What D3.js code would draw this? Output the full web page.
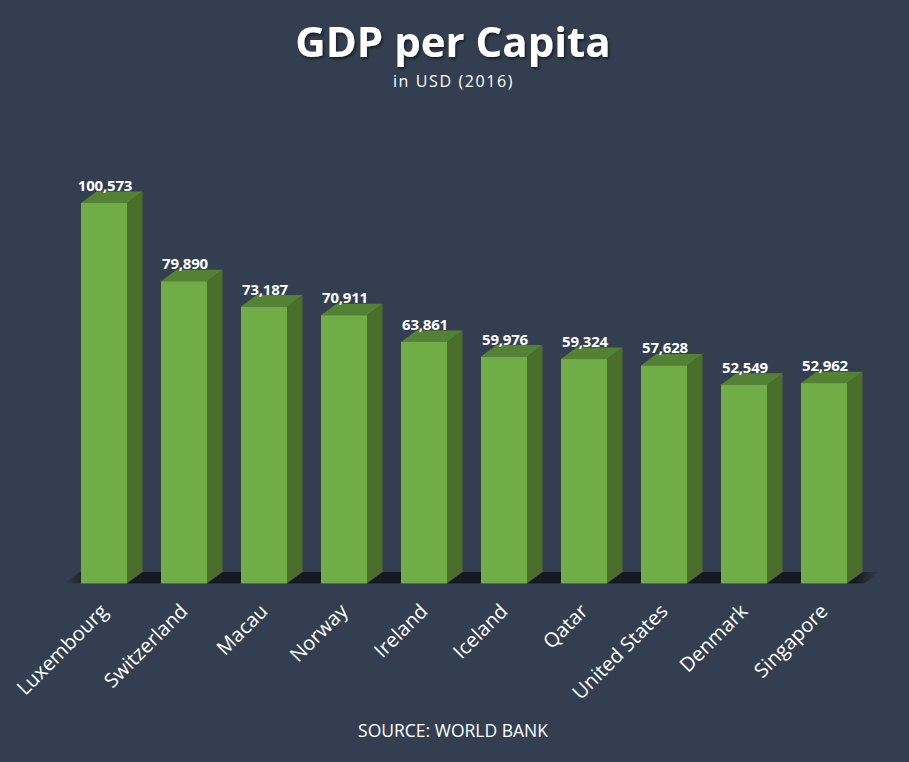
<!DOCTYPE html>
<html>
<head>
<meta charset="utf-8">
<script src="https://cdn.jsdelivr.net/npm/d3@7"></script>
<style>
  html, body { margin: 0; padding: 0; background: #333f50; }
  svg { display: block; }
  text { font-family: "Open Sans", sans-serif; fill: #fff; }
</style>
</head>
<body>
<div class="viz"></div>
<script>
const countries = ['Luxembourg', 'Switzerland', 'Macau', 'Norway', 'Ireland', 'Iceland', 'Qatar', 'United States', 'Denmark', 'Singapore'];
const gdpValues = [100573, 79890, 73187, 70911, 63861, 59976, 59324, 57628, 52549, 52962];

const width = 909;
const height = 762;
const baseY = 583.5;
// fake 3d offset of the bars
const depthX = 15.5;
const depthY = 11.5;

const data = countries.map((c, i) => ({country: c, value: gdpValues[i]}));

const x = d3.scaleBand().domain(countries).range([64, 864]).paddingInner(0.425).paddingOuter(0.2125);
const y = d3.scaleLinear().domain([0, 100573]).range([baseY, 203]);

const svg = d3.select('.viz').append('svg')
  .attr('width', width)
  .attr('height', height);

const defs = svg.append('defs');

const shadow = defs.append('filter').attr('id', 'shadow')
  .attr('x', '-10%').attr('y', '-20%').attr('width', '120%').attr('height', '150%');
shadow.append('feDropShadow')
  .attr('dx', 1.5).attr('dy', 2).attr('stdDeviation', 1.5)
  .attr('flood-color', '#000').attr('flood-opacity', 0.55);

const floorFade = defs.append('linearGradient').attr('id', 'floorFade');
[[0, '#333f50'], [0.03, '#151a22'], [0.97, '#151a22'], [1, '#333f50']].forEach(s => {
  floorFade.append('stop').attr('offset', s[0]).attr('stop-color', s[1]);
});

// floor under the bars
const x0 = x.range()[0];
const x1 = x.range()[1];
svg.append('path')
  .attr('d', `M${x0},${baseY} L${x0 + depthX},${baseY - depthY} L${x1 + depthX},${baseY - depthY} L${x1},${baseY} Z`)
  .attr('fill', 'url(#floorFade)');

const bar = svg.selectAll('g.bar').data(data).enter().append('g').attr('class', 'bar');

// side
bar.append('path')
  .attr('d', d => {
    const r = x(d.country) + x.bandwidth();
    return `M${r},${y(d.value)} L${r + depthX},${y(d.value) - depthY} L${r + depthX},${baseY - depthY} L${r},${baseY} Z`;
  })
  .attr('fill', '#4b6f2b');

// top
bar.append('path')
  .attr('d', d => {
    const l = x(d.country);
    const r = l + x.bandwidth();
    const t = y(d.value);
    return `M${l},${t} L${l + depthX},${t - depthY} L${r + depthX},${t - depthY} L${r},${t} Z`;
  })
  .attr('fill', '#548235');

// front
bar.append('rect')
  .attr('x', d => x(d.country))
  .attr('y', d => y(d.value))
  .attr('width', x.bandwidth())
  .attr('height', d => baseY - y(d.value))
  .attr('fill', '#70ad47');

// value labels
bar.append('text')
  .text(d => d3.format(',')(d.value))
  .attr('x', d => x(d.country) + x.bandwidth() / 2 + 1)
  .attr('y', d => y(d.value) - 12)
  .attr('text-anchor', 'middle')
  .style('font-size', '15px')
  .style('font-weight', 700)
  .style('letter-spacing', '-0.2px');

// country labels
const axis = svg.append('g')
  .attr('transform', `translate(0, ${baseY})`)
  .call(d3.axisBottom(x).tickSize(0).tickPadding(0));
axis.select('.domain').remove();
axis.selectAll('text')
  .attr('text-anchor', 'end')
  .attr('x', 0)
  .attr('y', 0)
  .attr('dy', null)
  .attr('transform', 'translate(5, 29) rotate(-45)')
  .style('font-size', '20px')
  .style('font-family', '"Open Sans", sans-serif');

svg.append('text')
  .text('GDP per Capita')
  .attr('x', 453)
  .attr('y', 57)
  .attr('text-anchor', 'middle')
  .attr('filter', 'url(#shadow)')
  .style('font-size', '42px')
  .style('font-weight', 700);

svg.append('text')
  .text('in USD (2016)')
  .attr('x', 453.5)
  .attr('y', 87)
  .attr('text-anchor', 'middle')
  .style('font-size', '16px')
  .style('letter-spacing', '1.6px');

svg.append('text')
  .text('SOURCE: WORLD BANK')
  .attr('x', 453)
  .attr('y', 737)
  .attr('text-anchor', 'middle')
  .style('font-size', '17.5px');
</script>
</body>
</html>
